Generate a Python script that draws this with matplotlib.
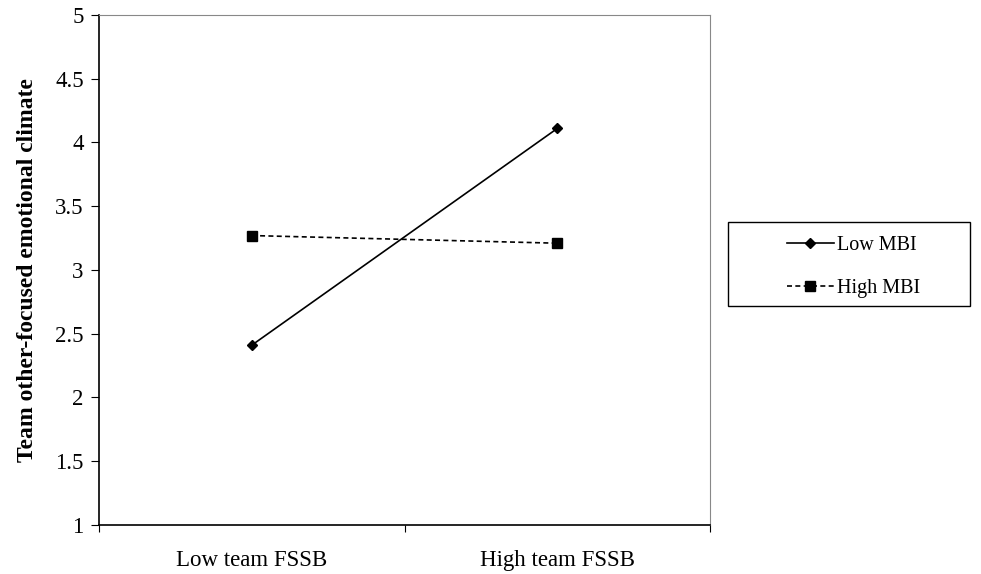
import matplotlib.pyplot as plt
from matplotlib.patches import Rectangle

plt.rcParams['font.family'] = ['Liberation Serif', 'DejaVu Serif']

categories = ['Low team FSSB', 'High team FSSB']
low_mbi = [2.41, 4.11]
high_mbi = [3.27, 3.21]
yticks = [1, 1.5, 2, 2.5, 3, 3.5, 4, 4.5, 5]

fig = plt.figure(figsize=(9.81, 5.74), dpi=100)
ax = fig.add_axes([0.1009, 0.0854, 0.6229, 0.8885])

x = [0.5, 1.5]
ax.plot(x, low_mbi, color='k', linestyle='-', linewidth=1.2,
        marker='D', markersize=5, label='Low MBI')
ax.plot(x, high_mbi, color='k', linestyle=(0, (3, 2)), linewidth=1.2,
        marker='s', markersize=7, label='High MBI')

ax.set_xlim(0, 2)
ax.set_ylim(1, 5)
ax.set_yticks(yticks)
ax.set_yticklabels(['1', '1.5', '2', '2.5', '3', '3.5', '4', '4.5', '5'])
ax.set_xticks([0, 1, 2])
ax.set_xticklabels([])
ax.set_xticks(x, minor=True)
ax.set_xticklabels(categories, minor=True)
ax.tick_params(axis='x', which='minor', length=0, pad=18, labelsize=16.5)
ax.tick_params(axis='x', which='major', length=5, direction='out')
ax.tick_params(axis='y', length=6, direction='out', labelsize=16.5, pad=5)

for side in ['left', 'bottom']:
    ax.spines[side].set_linewidth(1.2)
for side in ['top', 'right']:
    ax.spines[side].set_color('#888888')
    ax.spines[side].set_linewidth(0.8)

ax.set_ylabel('Team other-focused emotional climate', fontsize=17,
              fontweight='bold', labelpad=12)

# legend box drawn separately so the entries can sit centred in it
box = Rectangle((0.742, 0.467), 0.247, 0.146, transform=fig.transFigure,
                fill=False, edgecolor='k', linewidth=1.0)
fig.patches.append(box)
leg = fig.legend(loc='center', bbox_to_anchor=(0.870, 0.535),
                 fontsize=14.5, frameon=False, handlelength=2.35,
                 labelspacing=1.2, handletextpad=0.15)

fig.savefig('out.png', dpi=100)
